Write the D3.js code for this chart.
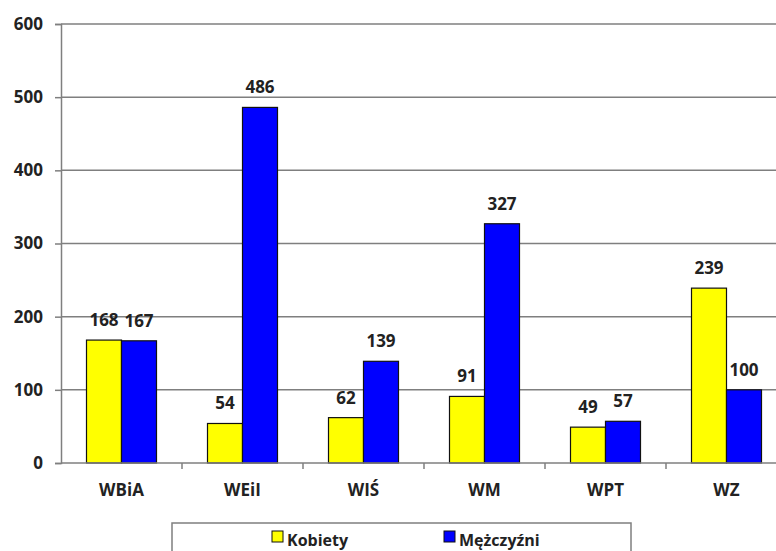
<!DOCTYPE html>
<html><head><meta charset="utf-8">
<script src="https://cdn.jsdelivr.net/npm/d3@7"></script>
<style>body{margin:0;background:#fff}svg{display:block}text{font-family:"Open Sans",sans-serif;font-weight:700;fill:#222}</style>
</head><body>
<script>
const categories = ["WBiA","WEiI","WIŚ","WM","WPT","WZ"];
const seriesNames = ["Kobiety","Mężczyźni"];
const kobiety = [168,54,62,91,49,239];
const mezczyzni = [167,486,139,327,57,100];
const yTicks = [0,100,200,300,400,500,600];
const colors = ["#ffff00","#0000ff"];

(function(){
const W=776,H=551, FS="17px";
const svg=d3.select("body").append("svg").attr("width",W).attr("height",H);
const pLeft=61, pRight=787, pTop=24, pBottom=463;
const y=d3.scaleLinear().domain([0,600]).range([pBottom,pTop]);
const x0=d3.scaleBand().domain(categories).range([pLeft,pRight]).padding(0);
const x1=d3.scaleBand().domain(seriesNames).range([25.5,x0.bandwidth()-25.5]).padding(0);

// gridlines
svg.append("g").selectAll("line").data(yTicks.filter(d=>d>0)).join("line")
  .attr("x1",pLeft).attr("x2",W).attr("y1",d=>y(d)).attr("y2",d=>y(d))
  .attr("stroke","#7f7f7f").attr("stroke-width",1.5);

// y axis
const ya=svg.append("g").attr("transform",`translate(${pLeft},0)`)
  .call(d3.axisLeft(y).tickValues(yTicks).tickSize(6).tickPadding(12));
ya.attr("font-family",null).attr("font-size",null);
ya.select(".domain").attr("stroke","#7f7f7f").attr("stroke-width",1.5);
ya.selectAll(".tick line").attr("stroke","#7f7f7f").attr("stroke-width",1.5);
ya.selectAll("text").style("font-size",FS).attr("fill","#222");

// bars
const data=categories.map((c,i)=>({c,vals:[kobiety[i],mezczyzni[i]]}));
const g=svg.append("g").selectAll("g").data(data).join("g")
  .attr("transform",d=>`translate(${x0(d.c)},0)`);
g.selectAll("rect").data(d=>d.vals.map((v,j)=>({v,s:seriesNames[j],j}))).join("rect")
  .attr("x",d=>x1(d.s)).attr("width",x1.bandwidth())
  .attr("y",d=>y(d.v)).attr("height",d=>y(0)-y(d.v))
  .attr("fill",d=>colors[d.j]).attr("stroke","#111").attr("stroke-width",1.2);
g.selectAll("text").data(d=>d.vals.map((v,j)=>({v,s:seriesNames[j],j}))).join("text")
  .attr("x",d=>x1(d.s)+x1.bandwidth()/2).attr("y",d=>y(d.v)-14)
  .attr("text-anchor","middle").style("font-size",FS).text(d=>d.v);

// x axis
const xa=svg.append("g").attr("transform",`translate(0,${pBottom})`);
xa.append("line").attr("x1",pLeft).attr("x2",W).attr("stroke","#7f7f7f").attr("stroke-width",1.5);
xa.selectAll("line.t").data(categories.slice(1)).join("line").attr("class","t")
  .attr("x1",d=>x0(d)).attr("x2",d=>x0(d)).attr("y1",0).attr("y2",6)
  .attr("stroke","#7f7f7f").attr("stroke-width",1.5);
xa.selectAll("text").data(categories).join("text")
  .attr("x",d=>x0(d)+x0.bandwidth()/2).attr("y",33)
  .attr("text-anchor","middle").style("font-size",FS).text(d=>d);

// legend
const lg=svg.append("g");
lg.append("rect").attr("x",172).attr("y",523).attr("width",459).attr("height",40)
  .attr("fill","#fff").attr("stroke","#7f7f7f").attr("stroke-width",1.5);
const lx=[272,444];
seriesNames.forEach((s,i)=>{
  lg.append("rect").attr("x",lx[i]).attr("y",531).attr("width",11).attr("height",11)
    .attr("fill",colors[i]).attr("stroke","#111").attr("stroke-width",1);
  lg.append("text").attr("x",lx[i]+15).attr("y",546).style("font-size","16px").text(s);
});
})();
</script>
</body></html>
